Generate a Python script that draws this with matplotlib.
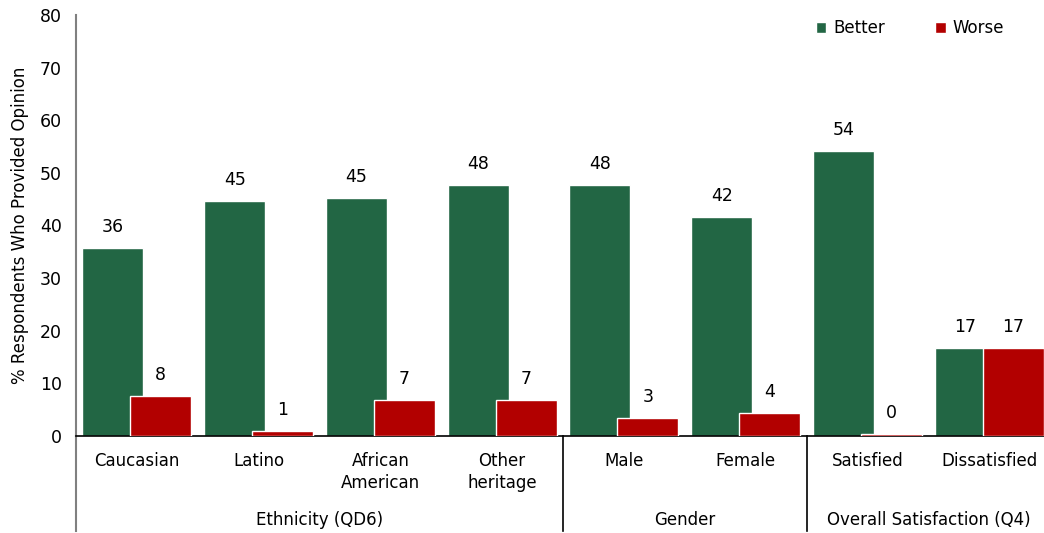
import matplotlib
matplotlib.use("Agg")
import matplotlib.pyplot as plt
import matplotlib.transforms as mtransforms
import numpy as np

# Share of respondents who said things got better / worse
categories = ["Caucasian", "Latino", "African\nAmerican", "Other\nheritage",
              "Male", "Female", "Satisfied", "Dissatisfied"]
better = [35.7, 44.6, 45.2, 47.7, 47.6, 41.6, 54.2, 16.7]
worse = [7.6, 1.0, 6.8, 6.8, 3.4, 4.4, 0.3, 16.7]
groups = ["Ethnicity (QD6)", "Gender", "Overall Satisfaction (Q4)"]
group_sizes = [4, 2, 2]

GREEN = "#226644"
RED = "#B20000"

plt.rcParams["font.family"] = ["DejaVu Sans"]

fig = plt.figure(figsize=(10.44, 5.33), dpi=100)
ax = fig.add_axes([0.0728, 0.182, 0.9272, 0.790])

x = np.arange(len(categories))
w = 0.5
off = 0.197
ax.bar(x - off, better, width=w, color=GREEN, edgecolor="white",
       linewidth=1, label="Better", zorder=2)
ax.bar(x + off, worse, width=w, color=RED, edgecolor="white",
       linewidth=1, label="Worse", zorder=3)

# Value labels above each bar
for xi, b, r in zip(x, better, worse):
    ax.text(xi - off, b + 2.3, f"{b:.0f}", ha="center", va="bottom", fontsize=12.5)
    ax.text(xi + off, r + 2.3, f"{r:.0f}", ha="center", va="bottom", fontsize=12.5)

ax.set_xlim(-0.5, 7.45)
ax.set_ylim(0, 80)
ax.set_yticks(range(0, 81, 10))
ax.tick_params(axis="y", length=0, labelsize=12.5, pad=10)
ax.set_xticks([])
ax.set_ylabel("% Respondents Who Provided Opinion", fontsize=12, labelpad=8)

for s in ["top", "right"]:
    ax.spines[s].set_visible(False)
ax.spines["left"].set_color("#808080")
ax.spines["left"].set_linewidth(1.5)
ax.spines["bottom"].set_color("black")
ax.spines["bottom"].set_linewidth(1.2)

# Two-level category axis below the bars
trans = mtransforms.blended_transform_factory(ax.transData, ax.transAxes)
for xi, cat in zip(x, categories):
    ax.text(xi, -0.038, cat, transform=trans, ha="center", va="top",
            fontsize=12, linespacing=1.3)

start = 0
bounds = [-0.5]
for g, n in zip(groups, group_sizes):
    mid = start + (n - 1) / 2
    ax.text(mid, -0.2, g, transform=trans, ha="center", va="center", fontsize=12)
    start += n
    bounds.append(start - 0.5)
for b in bounds[:-1]:
    ax.plot([b, b], [0, -0.226], transform=trans, color="black" if b > 0 else "#808080",
            linewidth=1.2 if b > 0 else 1.5, clip_on=False)

ax.legend(loc="upper right", bbox_to_anchor=(0.974, 1.025), ncol=2, frameon=False,
          fontsize=12, handlelength=0.65, handleheight=0.65, columnspacing=3.0,
          handletextpad=0.4)

fig.savefig("out.png", dpi=100)
